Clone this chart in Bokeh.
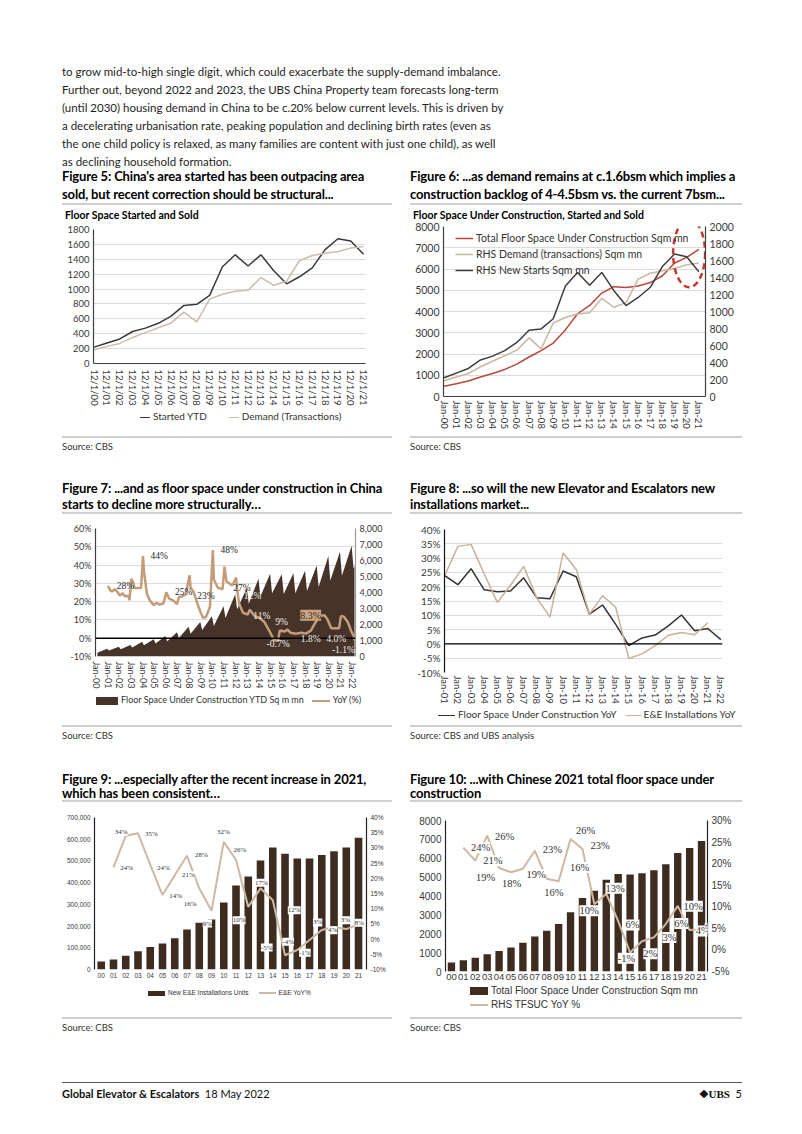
import math
from bokeh.plotting import figure
from bokeh.models import (Range1d, LinearAxis, FixedTicker, SingleIntervalTicker, Span, Legend,
                          LegendItem, ColumnDataSource, LabelSet, Div, NumeralTickFormatter,
                          PrintfTickFormatter)
from bokeh.layouts import column, row
from bokeh.embed import file_html
from bokeh.resources import INLINE

# ---------------- data ----------------
year_codes = ["00", "01", "02", "03", "04", "05", "06", "07", "08", "09", "10",
              "11", "12", "13", "14", "15", "16", "17", "18", "19", "20", "21"]
fig5_xlabels = ["12/1/" + c for c in year_codes]
fig6_xlabels = ["Jan-" + c for c in year_codes]
fig7_xlabels = ["Jan-" + c for c in year_codes + ["22"]]
fig8_xlabels = ["Jan-" + c for c in year_codes[1:] + ["22"]]
fig910_xlabels = year_codes

# Figure 5 / 6 (sqm mn)
started_ytd = [220, 275, 330, 430, 475, 540, 636, 780, 795, 915, 1300, 1460, 1310, 1460,
               1245, 1070, 1165, 1285, 1530, 1676, 1645, 1467]
demand_transactions = [185, 230, 270, 350, 415, 480, 545, 690, 560, 865, 930, 970, 985, 1155,
                       1050, 1105, 1380, 1450, 1480, 1505, 1550, 1570]
fsuc_total = [478, 602, 726, 920, 1080, 1274, 1522, 1858, 2159, 2513, 3133, 3894, 4283, 4867,
              5168, 5133, 5204, 5363, 5681, 6283, 6549, 6920]

# Figure 7: YTD floor space under construction (Feb trough and Dec level of each year)
fig7_feb_values = [230, 370, 460, 560, 700, 820, 960, 1150, 1420, 1650, 1900, 2400, 2950, 3300,
                   3750, 3950, 3900, 3950, 4100, 4350, 4750, 5050, 5500]
fig7_dec_values = [478, 602, 726, 920, 1080, 1274, 1522, 1858, 2159, 2513, 3133, 3894, 4283, 4867,
                   5168, 5133, 5204, 5363, 5681, 6283, 6549, 6920]
fig7_last_date = "Mar-22"
fig7_last_value = 5650
fig7_yoy_dates = ["Jan-01", "Mar-01", "May-01", "Aug-01", "Nov-01", "Jan-02", "Apr-02", "Jun-02",
                  "Oct-02", "Nov-02", "Jan-03", "Mar-03", "Apr-03", "Jun-03", "Nov-03", "Jan-04",
                  "Feb-04", "May-04", "Aug-04", "Dec-04", "Mar-05", "Jun-05", "Oct-05", "Jan-06",
                  "Apr-06", "Aug-06", "Dec-06", "Feb-07", "May-07", "Sep-07", "Jan-08", "Feb-08",
                  "May-08", "Aug-08", "Dec-08", "Mar-09", "Jun-09", "Oct-09", "Jan-10", "Feb-10",
                  "Jun-10", "Nov-10", "Jan-11", "Mar-11", "Jul-11", "Sep-11", "Jan-12", "Feb-12",
                  "Apr-12", "Aug-12", "Jan-13", "Mar-13", "Aug-13", "Jan-14", "Jun-14", "Nov-14",
                  "Apr-15", "Aug-15", "Oct-15", "Mar-16", "Jun-16", "Sep-16", "Mar-17", "Aug-17",
                  "Jan-18", "Jun-18", "Nov-18", "Mar-19", "Aug-19", "Nov-19", "Mar-20", "Aug-20",
                  "Nov-20", "Jan-21", "Apr-21", "Aug-21", "Dec-21", "Feb-22", "Mar-22"]
fig7_yoy_values = [28.6, 26.3, 25.6, 26.8, 25.1, 23.3, 24.6, 23.0, 23.2, 20.7, 32.5, 30.4, 27.7,
                   27.4, 27.4, 44.9, 36.5, 24.2, 20.7, 18.1, 19.3, 18.4, 19.0, 25.1, 21.6, 20.7,
                   18.6, 22.5, 22.8, 23.9, 34.4, 27.7, 25.6, 20.7, 14.6, 11.1, 11.6, 17.2, 48.2,
                   32.1, 27.7, 26.8, 39.1, 31.2, 29.5, 28.8, 33.2, 27.0, 19.1, 13.9, 13.0, 15.6,
                   12.1, 11.2, 8.9, 4.2, -1.0, -1.6, 4.2, 3.7, 4.7, 3.0, 2.5, 3.0, 2.5, 4.2, 8.9,
                   12.1, 12.5, 10.4, 5.4, 5.4, 5.4, 12.1, 11.8, 8.9, 3.3, 1.6, -1.1]
fig7_dark_labels = ["28%", "44%", "25%", "23%", "48%", "27%"]
fig7_dark_label_x = [2.5, 5.4, 7.5, 9.4, 11.4, 12.5]
fig7_dark_label_y = [28.4, 44.7, 25.2, 23.2, 48.4, 27.4]
fig7_light_labels = ["12%", "11%", "9%", "-0.7%", "1.8%", "4.0%"]
fig7_light_label_x = [13.4, 14.2, 15.9, 15.6, 18.4, 20.6]
fig7_light_label_y = [23.2, 12.1, 8.9, -3.2, -0.5, -0.5]
fig7_box_labels = ["8.3%"]
fig7_box_label_x = [18.4]
fig7_box_label_y = [12.6]
fig7_end_labels = ["-1.1%"]
fig7_end_label_x = [22.2]
fig7_end_label_y = [-6.6]

# Figure 8 (YoY %), Jan-01..Jan-22
fsuc_yoy = [23.9, 20.7, 26.3, 18.9, 18.2, 18.5, 23.1, 16.1, 15.8, 25.5, 23.5, 10.4, 13.6, 6.8,
            -0.6, 2.1, 3.1, 6.3, 10.1, 4.6, 5.4, 1.5]
ee_install_yoy = [23.9, 34.1, 34.8, 24.5, 14.5, 20.5, 27.1, 16.0, 9.4, 31.8, 26.0, 10.4, 16.9,
                  12.8, -5.1, -3.5, -0.6, 3.0, 4.0, 3.2, 7.4]

# Figure 9
ee_units = [36800, 46000, 63000, 84000, 104000, 120000, 144000, 184000, 215000, 230000, 309000,
            387000, 428000, 502000, 562000, 533000, 511000, 511000, 527000, 545000, 562000, 607000]
ee_yoy = [23.6, 34.0, 34.8, 24.5, 14.5, 21.0, 27.4, 16.7, 9.3, 32.0, 26.0, 10.6, 16.7, 12.8,
          -5.3, -3.6, -0.3, 3.0, 4.0, 3.3, 4.9]
fig9_labels = ["34%", "35%", "24%", "24%", "14%", "21%", "28%", "16%", "9%", "32%", "26%", "10%",
               "17%", "-5%", "12%", "-4%", "-1%", "3%", "4%", "3%", "8%"]
fig9_label_x = [1.63, 4.09, 2.07, 5.07, 6.08, 7.11, 8.17, 7.25, 8.66, 9.97, 11.31, 11.25, 13.08,
                13.51, 15.75, 15.26, 16.62, 17.66, 18.88, 19.92, 21.06]
fig9_label_y = [35.3, 34.7, 23.5, 23.5, 14.2, 21.0, 27.6, 11.7, 5.1, 35.3, 29.3, 6.2, 18.5, -2.8,
                9.5, -0.9, -4.5, 5.5, 2.9, 6.2, 5.4]

# Figure 10
tfsuc_yoy = [23.7, 20.7, 26.5, 19.0, 18.0, 18.8, 23.0, 16.5, 15.9, 25.7, 23.4, 10.6, 13.0, 6.7,
             -0.6, 2.0, 2.9, 6.0, 10.2, 4.6, 4.8]
fig10_labels = ["24%", "26%", "21%", "19%", "18%", "19%", "23%", "16%", "26%", "23%", "16%",
                "10%", "13%", "6%", "-1%", "2%", "3%", "6%", "10%", "4%", "5%"]
fig10_label_x = [2.44, 4.46, 3.48, 2.86, 5.05, 7.12, 8.47, 8.6, 11.27, 12.48, 10.77, 11.55,
                 13.74, 15.2, 14.7, 16.7, 18.3, 19.3, 20.3, 21.1, 21.85]
fig10_label_y = [23.7, 26.3, 20.7, 16.7, 15.4, 17.4, 23.2, 13.2, 27.7, 24.2, 19.1, 9.1, 14.3, 5.8,
                 -1.9, -0.9, 2.9, 6.1, 10.1, 4.4, 5.0]

body_lines = [
    "to grow mid-to-high single digit, which could exacerbate the supply-demand imbalance.",
    "Further out, beyond 2022 and 2023, the UBS China Property team forecasts long-term",
    "(until 2030) housing demand in China to be c.20% below current levels. This is driven by",
    "a decelerating urbanisation rate, peaking population and declining birth rates (even as",
    "the one child policy is relaxed, as many families are content with just one child), as well",
    "as declining household formation.",
]

# ---------------- styling helpers ----------------
SANS = "Lato"
ARIAL = "Liberation Sans"
DARK = "#46342a"
BAR = "#3e2c21"
TAN = "#cdb9a3"
MONTHS = {"Jan": 0, "Feb": 1, "Mar": 2, "Apr": 3, "May": 4, "Jun": 5, "Jul": 6, "Aug": 7,
          "Sep": 8, "Oct": 9, "Nov": 10, "Dec": 11}


def date_x(s):
    m, y = s.split("-")
    return int(y) + MONTHS[m] / 12.0


def base_fig(w, h, xr, yr, ml, mr, mt, mb, grid=True):
    p = figure(width=w, height=h, x_range=xr, y_range=yr, output_backend="svg",
               toolbar_location=None, min_border_left=ml, min_border_right=mr,
               min_border_top=mt, min_border_bottom=mb, margin=0)
    p.outline_line_color = None
    p.xgrid.grid_line_color = None
    p.ygrid.grid_line_color = "#dcdcdc" if grid else None
    p.background_fill_color = "white"
    p.border_fill_color = "white"
    return p


def style_axis(ax, size, font, line_color="#404040", lw=1.2, color="#3a3a3a", standoff=4):
    ax.major_label_text_font_size = size
    ax.major_label_text_font = font
    ax.major_label_text_color = color
    ax.major_tick_line_color = None
    ax.minor_tick_line_color = None
    ax.major_tick_out = 0
    ax.minor_tick_out = 0
    ax.axis_line_color = line_color
    ax.axis_line_width = lw
    ax.major_label_standoff = standoff


def labelset(p, xs, ys, texts, size, font, color, bg=None, yname="default", align="center"):
    src = ColumnDataSource(dict(x=xs, y=ys, t=texts))
    kw = dict(x="x", y="y", text="t", source=src, text_align=align, text_baseline="middle",
              text_font_size=size, text_font=font, text_color=color)
    if yname != "default":
        kw["y_range_name"] = yname
    if bg:
        kw["background_fill_color"] = bg
    ls = LabelSet(**kw)
    p.add_layout(ls)
    return ls


# ---------------- Figure 5 ----------------
idx22 = list(range(len(year_codes)))
p5 = base_fig(396, 186, Range1d(-0.05, 21.15), Range1d(0, 1800), 85, 39, 7, 44)
p5.yaxis.ticker = SingleIntervalTicker(interval=200)
p5.xaxis.ticker = FixedTicker(ticks=idx22)
p5.xaxis.major_label_overrides = {i: s for i, s in enumerate(fig5_xlabels)}
p5.xaxis.major_label_orientation = -math.pi / 2
style_axis(p5.yaxis[0], "9.5px", SANS)
style_axis(p5.xaxis[0], "9.5px", SANS, standoff=6)
p5.line(idx22, started_ytd, line_color="#3a3a3a", line_width=1.5)
p5.line(idx22, demand_transactions, line_color="#cbbcae", line_width=1.5)

# ---------------- Figure 6 ----------------
p6 = base_fig(390, 212, Range1d(-0.05, 21.55), Range1d(0, 8000), 39, 89, 6, 36)
p6.extra_y_ranges = {"r": Range1d(0, 2000)}
p6.yaxis.ticker = SingleIntervalTicker(interval=1000)
ax6r = LinearAxis(y_range_name="r", ticker=SingleIntervalTicker(interval=200))
p6.add_layout(ax6r, "right")
p6.xaxis.ticker = FixedTicker(ticks=idx22)
p6.xaxis.major_label_overrides = {i: s for i, s in enumerate(fig6_xlabels)}
p6.xaxis.major_label_orientation = -math.pi / 2
style_axis(p6.yaxis[0], "10.5px", SANS)
style_axis(ax6r, "10.5px", SANS)
style_axis(p6.xaxis[0], "9.5px", SANS)
r6a = p6.line(idx22, fsuc_total, line_color="#b8473b", line_width=1.5)
r6b = p6.line(idx22, demand_transactions, line_color="#cbb6a2", line_width=1.5, y_range_name="r")
r6c = p6.line(idx22, started_ytd, line_color="#3d3d3d", line_width=1.5, y_range_name="r")
p6.ellipse(x=[20.2], y=[6740], width=32, height=68, width_units="screen", height_units="screen",
           fill_color=None, line_color="#c0392b", line_width=2.5, line_dash="6 4")
lg6 = Legend(items=[LegendItem(label="Total Floor Space Under Construction Sqm mn", renderers=[r6a]),
                    LegendItem(label="RHS Demand (transactions) Sqm mn", renderers=[r6b]),
                    LegendItem(label="RHS New Starts Sqm mn", renderers=[r6c])])
lg6.location = (12, 118)
lg6.label_text_font_size = "10.5px"
lg6.label_text_font = SANS
lg6.label_text_color = "#333333"
lg6.glyph_width = 18
lg6.glyph_height = 14
lg6.label_height = 16
lg6.label_standoff = 3
lg6.spacing = 0
lg6.padding = 0
lg6.margin = 0
lg6.border_line_color = None
lg6.background_fill_alpha = 0
p6.add_layout(lg6)

# ---------------- Figure 7 ----------------
f7x, f7y = [], []
for i, dec in enumerate(fig7_dec_values):
    f7x += [i + 1 / 12.0, i + 11 / 12.0]
    f7y += [fig7_feb_values[i], dec]
f7x += [len(fig7_dec_values) + 1 / 12.0, date_x(fig7_last_date)]
f7y += [fig7_feb_values[-1], fig7_last_value]

p7 = base_fig(396, 177, Range1d(-0.08, 22.25), Range1d(-10, 60), 87, 49, 14, 30)
p7.extra_y_ranges = {"r": Range1d(0, 8000)}
p7.yaxis.ticker = SingleIntervalTicker(interval=10)
p7.yaxis.formatter = PrintfTickFormatter(format="%d%%")
ax7r = LinearAxis(y_range_name="r", ticker=SingleIntervalTicker(interval=1000),
                  formatter=NumeralTickFormatter(format="0,0"))
p7.add_layout(ax7r, "right")
p7.xaxis.ticker = FixedTicker(ticks=list(range(23)))
p7.xaxis.major_label_overrides = {i: s for i, s in enumerate(fig7_xlabels)}
p7.xaxis.major_label_orientation = -math.pi / 2
style_axis(p7.yaxis[0], "9px", SANS)
style_axis(ax7r, "9px", SANS, line_color="#9a9a9a")
style_axis(p7.xaxis[0], "9px", SANS, line_color=None, standoff=5)
p7.varea(x=f7x, y1=[0] * len(f7x), y2=f7y, fill_color=DARK, y_range_name="r")
p7.add_layout(Span(location=0, dimension="width", line_color="black", line_width=1.5))
p7.line([date_x(d) for d in fig7_yoy_dates], fig7_yoy_values, line_color="#c49c79", line_width=2.5)
labelset(p7, fig7_dark_label_x, fig7_dark_label_y, fig7_dark_labels, "9.5px", SANS, "#2a2a2a")
labelset(p7, fig7_light_label_x, fig7_light_label_y, fig7_light_labels, "9.5px", SANS, "#f4efe9")
labelset(p7, fig7_box_label_x, fig7_box_label_y, fig7_box_labels, "10px", SANS, "#3a2a20",
         bg="#caa381")
labelset(p7, fig7_end_label_x, fig7_end_label_y, fig7_end_labels, "9.5px", SANS, "#f4efe9",
         align="right")

# ---------------- Figure 8 ----------------
idx8 = list(range(len(fsuc_yoy)))
p8 = base_fig(390, 192, Range1d(-0.02, 21.12), Range1d(-10, 40), 40, 72, 15, 31)
p8.yaxis.ticker = SingleIntervalTicker(interval=5)
p8.yaxis.formatter = PrintfTickFormatter(format="%d%%")
p8.xaxis.ticker = FixedTicker(ticks=idx8)
p8.xaxis.major_label_overrides = {i: s for i, s in enumerate(fig8_xlabels)}
p8.xaxis.major_label_orientation = -math.pi / 2
style_axis(p8.yaxis[0], "10px", SANS, line_color="#111111")
style_axis(p8.xaxis[0], "9.5px", SANS, line_color=None, standoff=3)
p8.add_layout(Span(location=0, dimension="width", line_color="black", line_width=1.2))
p8.line(idx8, fsuc_yoy, line_color="#333333", line_width=1.5)
p8.line(idx8[:len(ee_install_yoy)], ee_install_yoy, line_color="#c9b29d", line_width=1.5)

# ---------------- Figure 9 ----------------
p9 = base_fig(396, 181, Range1d(-0.55, 21.65), Range1d(0, 700000), 86, 38, 15, 14, grid=False)
p9.extra_y_ranges = {"r": Range1d(-10, 40)}
p9.yaxis.ticker = SingleIntervalTicker(interval=100000)
p9.yaxis.formatter = NumeralTickFormatter(format="0,0")
ax9r = LinearAxis(y_range_name="r", ticker=SingleIntervalTicker(interval=5),
                  formatter=PrintfTickFormatter(format="%d%%"))
p9.add_layout(ax9r, "right")
p9.xaxis.ticker = FixedTicker(ticks=idx22)
p9.xaxis.major_label_overrides = {i: s for i, s in enumerate(fig910_xlabels)}
style_axis(p9.yaxis[0], "6.5px", ARIAL, line_color="#222222")
style_axis(ax9r, "6.5px", ARIAL, line_color="#222222")
style_axis(p9.xaxis[0], "6.5px", ARIAL, line_color=None, standoff=3)
p9.vbar(x=idx22, top=ee_units, width=0.62, fill_color=BAR, line_color=None)
p9.line(idx22[1:], ee_yoy, line_color=TAN, line_width=2, y_range_name="r")
labelset(p9, fig9_label_x, fig9_label_y, fig9_labels, "7px", ARIAL, "#333333", bg="white",
         yname="r")

# ---------------- Figure 10 ----------------
p10 = base_fig(390, 182, Range1d(-0.5, 21.5), Range1d(0, 8000), 41, 87, 18, 13, grid=False)
p10.extra_y_ranges = {"r": Range1d(-5, 30)}
p10.yaxis.ticker = SingleIntervalTicker(interval=1000)
ax10r = LinearAxis(y_range_name="r", ticker=SingleIntervalTicker(interval=5),
                   formatter=PrintfTickFormatter(format="%d%%"))
p10.add_layout(ax10r, "right")
p10.xaxis.ticker = FixedTicker(ticks=idx22)
p10.xaxis.major_label_overrides = {i: s for i, s in enumerate(fig910_xlabels)}
style_axis(p10.yaxis[0], "10px", ARIAL, line_color="#222222")
style_axis(ax10r, "10px", ARIAL, line_color="#222222")
style_axis(p10.xaxis[0], "9.5px", ARIAL, line_color=None, standoff=2)
p10.vbar(x=idx22, top=fsuc_total, width=0.62, fill_color=BAR, line_color=None)
p10.line(idx22[1:], tfsuc_yoy, line_color=TAN, line_width=2, y_range_name="r")
labelset(p10, fig10_label_x, fig10_label_y, fig10_labels, "10.5px", ARIAL, "#333333", bg="white",
         yname="r")


# ---------------- text blocks ----------------
def div(html, w, h):
    return Div(text=html, width=w, height=h, margin=0)


def heading(lines, w, ml, pt, lh, lw, h):
    html = (f'<div style="margin-left:{ml}px;width:{lw}px;padding-top:{pt}px;padding-bottom:0px;'
            f'font-family:Lato;font-weight:700;font-size:13px;line-height:{lh}px;color:#000;'
            f'border-bottom:2px solid #cfcfcf;white-space:nowrap;letter-spacing:-0.15px">'
            + "<br>".join(lines) + "</div>")
    return div(html, w, h)


def subtitle(text, w, ml, pt, h):
    html = (f'<div style="margin-left:{ml}px;padding-top:{pt}px;font-family:Lato;font-weight:700;'
            f'font-size:10.5px;line-height:13px;color:#000;white-space:nowrap">{text}</div>')
    return div(html, w, h)


def source(text, w, ml, mt, lw, h):
    html = (f'<div style="margin-left:{ml}px;width:{lw}px;margin-top:{mt}px;'
            f'border-top:2px solid #cfcfcf;padding-top:3px;font-family:Lato;font-size:9.5px;'
            f'line-height:12px;color:#333">{text}</div>')
    return div(html, w, h)


def legend(items, w, h, ml, font, size, lh, vertical=False):
    parts = []
    for kind, color, label, gw, gh, gap in items:
        if kind == "line":
            sw = (f'<span style="display:inline-block;width:{gw}px;height:0;border-top:{gh}px '
                  f'solid {color};vertical-align:middle;margin-right:3px"></span>')
        else:
            sw = (f'<span style="display:inline-block;width:{gw}px;height:{gh}px;'
                  f'background:{color};vertical-align:middle;margin-right:3px"></span>')
        parts.append(f'<span style="margin-left:{gap}px">{sw}{label}</span>')
    html = (f'<div style="margin-left:{ml}px;font-family:{font};font-size:{size};'
            f'line-height:{lh}px;color:#333;white-space:nowrap">'
            + ("<br>" if vertical else "").join(parts) + "</div>")
    return div(html, w, h)


top = div('<div style="margin-left:54px;padding-top:55px;font-family:Lato;font-size:11.5px;'
          'line-height:18px;color:#1e1e1e;white-space:nowrap">' + "<br>".join(body_lines)
          + "</div>", 786, 158)

LW, RW = 396, 390
leg5 = legend([("line", "#3a3a3a", "Started YTD", 10, 1.5, 0),
               ("line", "#cbbcae", "Demand (Transactions)", 10, 1.5, 22)],
              LW, 16, 132, SANS, "10px", 16)
leg7 = legend([("box", DARK, "Floor Space Under Construction YTD Sq m mn", 22, 8, 0),
               ("line", "#c49c79", "YoY (%)", 18, 2.5, 8)],
              LW, 10, 88, SANS, "9px", 10)
leg8 = legend([("line", "#333333", "Floor Space Under Construction YoY", 17, 1.5, 0),
               ("line", "#c9b29d", "E&amp;E Installations YoY", 15, 1.5, 9)],
              RW, 14, 34, SANS, "10px", 14)
leg9 = legend([("box", BAR, "New E&amp;E Installations Units", 17, 5, 0),
               ("line", TAN, "E&amp;E YoY%", 17, 2, 10)],
              LW, 10, 140, ARIAL, "6.5px", 10)
leg10 = legend([("box", BAR, "Total Floor Space Under Construction Sqm mn", 18, 8, 0),
                ("line", TAN, "RHS TFSUC YoY %", 18, 2, 0)],
               RW, 28, 66, ARIAL, "10px", 14, vertical=True)

sec1 = row(
    column(heading(["Figure 5: China's area started has been outpacing area",
                    "sold, but recent correction should be structural..."], LW, 54, 1, 18, 330, 41),
           subtitle("Floor Space Started and Sold", LW, 57, 2, 15), p5, leg5,
           source("Source: CBS", LW, 54, 12, 330, 46)),
    column(heading(["Figure 6: ...as demand remains at c.1.6bsm which implies a",
                    "construction backlog of 4-4.5bsm vs. the current 7bsm..."], RW, 6, 1, 18, 332, 41),
           subtitle("Floor Space Under Construction, Started and Sold", RW, 9, 0, 13), p6,
           source("Source: CBS", RW, 6, 4, 332, 38)))
sec2 = row(
    column(heading(["Figure 7: ...and as floor space under construction in China",
                    "starts to decline more structurally\u2026"], LW, 54, 10, 16, 330, 44), p7, leg7,
           source("Source: CBS", LW, 54, 24, 330, 59)),
    column(heading(["Figure 8: ...so will the new Elevator and Escalators new",
                    "installations market..."], RW, 6, 10, 16, 332, 44), p8, leg8,
           source("Source: CBS and UBS analysis", RW, 6, 5, 332, 40)))
sec3 = row(
    column(heading(["Figure 9: ...especially after the recent increase in 2021,",
                    "which has been consistent\u2026"], LW, 54, 12, 14, 330, 42), p9, leg9,
           source("Source: CBS", LW, 54, 24, 330, 57)),
    column(heading(["Figure 10: ...with Chinese 2021 total floor space under",
                    "construction"], RW, 6, 12, 14, 332, 42), p10, leg10,
           source("Source: CBS", RW, 6, 5, 332, 38)))
footer = div('<div style="margin-left:54px;width:680px;margin-top:32px;border-top:1px solid #555;'
             'padding-top:4px;font-family:Lato;font-size:11px;line-height:14px;color:#111;'
             'display:flex;justify-content:space-between"><span><b>Global Elevator &amp; Escalators</b>'
             '&nbsp; 18 May 2022</span><span><b style="font-family:\'Liberation Serif\'">'
             '\u2756UBS</b>&nbsp; 5</span></div>', 786, 68)

layout = column(top, sec1, sec2, sec3, footer, spacing=0, margin=(8, 0, 0, 8))
open("out.html", "w").write(file_html(layout, INLINE))
